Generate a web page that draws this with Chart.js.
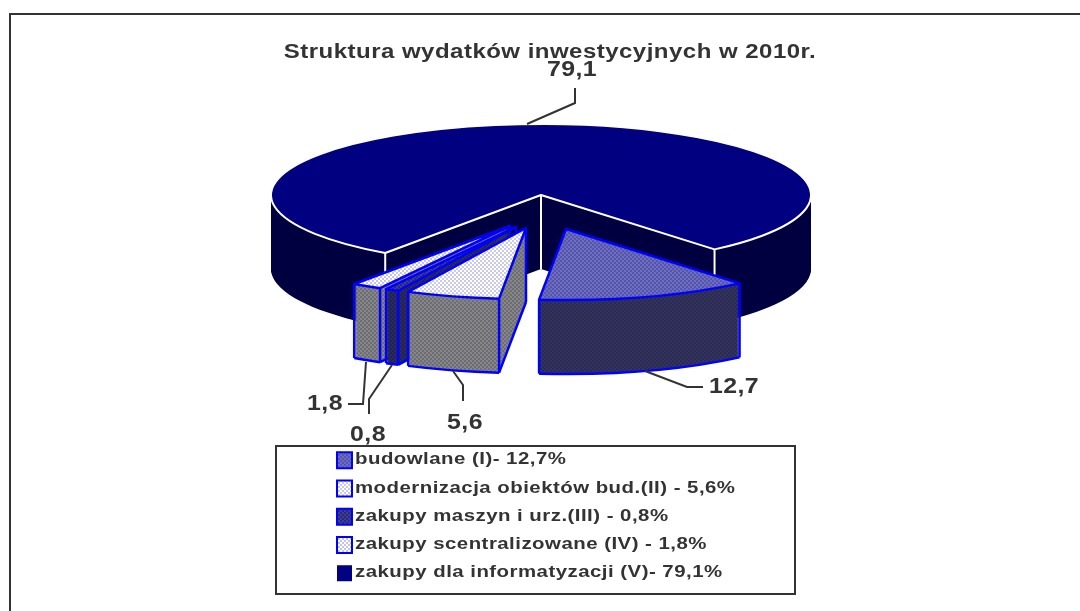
<!DOCTYPE html>
<html lang="pl">
<head>
<meta charset="utf-8">
<title>Struktura wydatków inwestycyjnych</title>
<script src="https://cdn.jsdelivr.net/npm/chart.js@4"></script>
<style>
  html, body { margin: 0; padding: 0; background: #fff; }
  canvas { display: block; }
</style>
</head>
<body>
<canvas id="wykres" width="1080" height="611"></canvas>
<script>
// dane
const tytul = "Struktura wydatków inwestycyjnych w 2010r.";
const kategorie = [
  "budowlane (I)- 12,7%",
  "modernizacja obiektów bud.(II) - 5,6%",
  "zakupy maszyn i urz.(III) - 0,8%",
  "zakupy scentralizowane (IV) - 1,8%",
  "zakupy dla informatyzacji (V)- 79,1%",
];
const wartosci = [12.7, 5.6, 0.8, 1.8, 79.1];

// wyglad: srodek tortu, splaszczenie, wysokosc, przesuniecia wycinkow
const SRODEK = { x: 541, y: 195 };
const PROMIEN = 270;
const SPLASZCZ = 71 / 270;
const WYSOKOSC = 74;
const OBROT = 140;
const ROZCIAGNIECIE = 1.2; // tekst w oryginale jest rozciagniety w poziomie
const CIEMNY = "#333333";
const wybuch = [{ x: 25, y: 34 }, { x: -15, y: 33 }, { x: -25, y: 32 }, { x: -31, y: 31 }, { x: 0, y: 0 }];
const kolorWierzch = [["#6c6cc4", "#5656a6"], ["#ffffff", "#c9c9e8"], ["#3c3c9c", "#2a2a70"], ["#ffffff", "#c4c4e6"], ["#000080", "#000080"]];
const kolorSciana = [["#33335f", "#2b2b52"], ["#868686", "#6e6e76"], ["#20205c", "#2c2c54"], ["#868686", "#6e6e76"], ["#000040", "#000040"]];
const obramowanie = ["#0000ff", "#0000ff", "#0000ff", "#0000ff", "#ffffff"];
const grubosc = [2.5, 2.5, 2.5, 2.5, 2];
const linie = [
  [[645, 371], [687, 387], [703, 387]],
  [[453, 371], [463, 385], [463, 401]],
  [[392, 365], [369, 399], [369, 414]],
  [[366, 362], [363, 404], [348, 404]],
  [[527, 124], [575, 103], [575, 88]],
];
const etykiety = [[734, 387], [465, 423], [368, 435], [325, 404], [572, 70]];

function szachownica(ctx, para) {
  const tile = document.createElement("canvas");
  tile.width = 4;
  tile.height = 4;
  const t = tile.getContext("2d");
  t.fillStyle = para[0];
  t.fillRect(0, 0, 4, 4);
  t.fillStyle = para[1];
  t.fillRect(0, 0, 2, 2);
  t.fillRect(2, 2, 2, 2);
  return ctx.createPattern(tile, "repeat");
}

function rozciagnij(box, x0) {
  const rysuj = box.draw;
  box.draw = function (area) {
    const ctx = this.ctx;
    ctx.save();
    ctx.translate(x0, 0);
    ctx.scale(ROZCIAGNIECIE, 1);
    ctx.translate(-x0, 0);
    rysuj.call(this, area);
    ctx.restore();
  };
}

function rysujWycinek(ctx, arc, i, wzorWierzch, wzorSciana) {
  const cx = SRODEK.x + wybuch[i].x;
  const cy = SRODEK.y + wybuch[i].y;
  const r = arc.outerRadius;
  const s = arc.startAngle;
  const e = arc.endAngle;
  const opcje = arc.options;

  const warstwa = (dy, tlo) => {
    ctx.save();
    ctx.translate(cx, cy + dy);
    ctx.scale(1, SPLASZCZ);
    ctx.translate(-arc.x, -arc.y);
    // wzor ma stac w miejscu, niezaleznie od splaszczenia i warstwy
    tlo.setTransform(ctx.getTransform().inverse());
    arc.options = { ...opcje, backgroundColor: tlo, borderWidth: 0 };
    arc.draw(ctx);
    ctx.restore();
  };
  for (let dy = WYSOKOSC; dy > 0; dy--) warstwa(dy, wzorSciana);
  warstwa(0, wzorWierzch);
  arc.options = opcje;

  // krawedzie rysowane bez splaszczenia, zeby mialy rowna grubosc
  const pkt = (a, dy) => [cx + r * Math.cos(a), cy + r * SPLASZCZ * Math.sin(a) + dy];
  ctx.save();
  ctx.strokeStyle = opcje.borderColor;
  ctx.lineWidth = opcje.borderWidth;
  ctx.lineJoin = "round";
  const odcinek = (a, b) => {
    ctx.beginPath();
    ctx.moveTo(a[0], a[1]);
    ctx.lineTo(b[0], b[1]);
    ctx.stroke();
  };
  const sladLuku = (dy, od, ko) => {
    ctx.save();
    ctx.translate(cx, cy + dy);
    ctx.scale(1, SPLASZCZ);
    ctx.arc(0, 0, r, od, ko);
    ctx.restore();
  };
  const widocznaS = Math.sin(s - Math.PI / 2) > 0;
  const widocznaE = Math.sin(e + Math.PI / 2) > 0;
  const dolne = i < wartosci.length - 1;

  if (dolne) {
    ctx.beginPath();
    sladLuku(WYSOKOSC, s, e);
    ctx.stroke();
  }
  if (widocznaS || widocznaE) odcinek([cx, cy], [cx, cy + WYSOKOSC]);
  if (dolne && widocznaS) odcinek([cx, cy + WYSOKOSC], pkt(s, WYSOKOSC));
  if (dolne && widocznaE) odcinek([cx, cy + WYSOKOSC], pkt(e, WYSOKOSC));
  if (Math.sin(s) > 0) odcinek(pkt(s, 0), pkt(s, WYSOKOSC));
  if (Math.sin(e) > 0) odcinek(pkt(e, 0), pkt(e, WYSOKOSC));

  ctx.beginPath();
  ctx.moveTo(cx, cy);
  sladLuku(0, s, e);
  ctx.closePath();
  ctx.stroke();
  ctx.restore();
}

const tort3d = {
  id: "tort3d",
  beforeUpdate(chart) {
    chart.ctx.letterSpacing = "0.4px";
  },
  afterLayout(chart) {
    // legenda i tytul stoja w innym miejscu niz w domyslnym ukladzie
    const legenda = chart.legend;
    const szer = legenda.width;
    legenda.left = 355 - 10.5 - 8.5 - legenda.options.labels.padding;
    legenda.right = legenda.left + szer;
    legenda.top = 440;
    legenda.bottom = 611;
    chart.titleBlock.left += 20;
    rozciagnij(chart.titleBlock, 550);
    rozciagnij(legenda, 355);
  },
  beforeDraw(chart) {
    const ctx = chart.ctx;
    ctx.letterSpacing = "0.4px";
    ctx.save();
    ctx.strokeStyle = CIEMNY;
    ctx.lineWidth = 2;
    ctx.beginPath();
    ctx.moveTo(10, 611);
    ctx.lineTo(10, 14);
    ctx.lineTo(1080, 14);
    ctx.stroke();
    ctx.strokeRect(276, 446, 519, 148);
    ctx.restore();
  },
  beforeDatasetsDraw(chart) {
    const ctx = chart.ctx;
    const luki = chart.getDatasetMeta(0).data;
    const kolejnosc = [4, 3, 2, 1, 0];
    kolejnosc.forEach((i) => {
      rysujWycinek(ctx, luki[i], i, szachownica(ctx, kolorWierzch[i]), szachownica(ctx, kolorSciana[i]));
    });
    return false;
  },
  afterDraw(chart) {
    const ctx = chart.ctx;
    ctx.save();
    ctx.strokeStyle = CIEMNY;
    ctx.lineWidth = 2;
    linie.forEach((p) => {
      ctx.beginPath();
      ctx.moveTo(p[0][0], p[0][1]);
      ctx.lineTo(p[1][0], p[1][1]);
      ctx.lineTo(p[2][0], p[2][1]);
      ctx.stroke();
    });
    ctx.fillStyle = CIEMNY;
    ctx.font = "bold 22px 'Liberation Sans'";
    ctx.textAlign = "center";
    ctx.textBaseline = "middle";
    wartosci.forEach((v, i) => {
      ctx.save();
      ctx.translate(etykiety[i][0], etykiety[i][1]);
      ctx.scale(1.13, 1);
      ctx.fillText(v.toFixed(1).replace(".", ","), 0, 0);
      ctx.restore();
    });
    // kwadraciki legendy, wieksze niz pozwala boxWidth
    const pierwszy = chart.legend.top + chart.legend.options.labels.padding;
    kategorie.forEach((k, i) => {
      const y = pierwszy + 1 + i * 28.25;
      ctx.fillStyle = szachownica(ctx, kolorWierzch[i]);
      ctx.fillRect(337, y, 15, 16);
      if (i < wartosci.length - 1) {
        ctx.strokeStyle = obramowanie[i];
        ctx.lineWidth = 2;
        ctx.strokeRect(337, y, 15, 16);
      }
    });
    ctx.restore();
  },
};

new Chart(document.getElementById("wykres"), {
  type: "pie",
  plugins: [tort3d],
  data: {
    labels: kategorie,
    datasets: [{
      data: wartosci,
      backgroundColor: kolorWierzch.map((k) => k[0]),
      borderColor: obramowanie,
      borderWidth: grubosc,
    }],
  },
  options: {
    responsive: false,
    animation: false,
    rotation: OBROT,
    radius: PROMIEN,
    plugins: {
      tooltip: { enabled: false },
      title: {
        display: true,
        text: tytul,
        color: CIEMNY,
        font: { family: "'Liberation Sans'", size: 20, weight: "bold" },
        padding: { top: 40, bottom: 0 },
      },
      legend: {
        position: "left",
        align: "start",
        labels: {
          color: CIEMNY,
          font: { family: "'Liberation Sans'", size: 17, weight: "bold" },
          boxWidth: 10.5,
          boxHeight: 15,
          padding: 11.25,
          generateLabels(chart) {
            const opisy = Chart.overrides.doughnut.plugins.legend.labels.generateLabels(chart);
            return opisy.map((o) => ({ ...o, fillStyle: "rgba(0,0,0,0)", strokeStyle: "rgba(0,0,0,0)", lineWidth: 0 }));
          },
        },
      },
    },
  },
});
</script>
</body>
</html>
